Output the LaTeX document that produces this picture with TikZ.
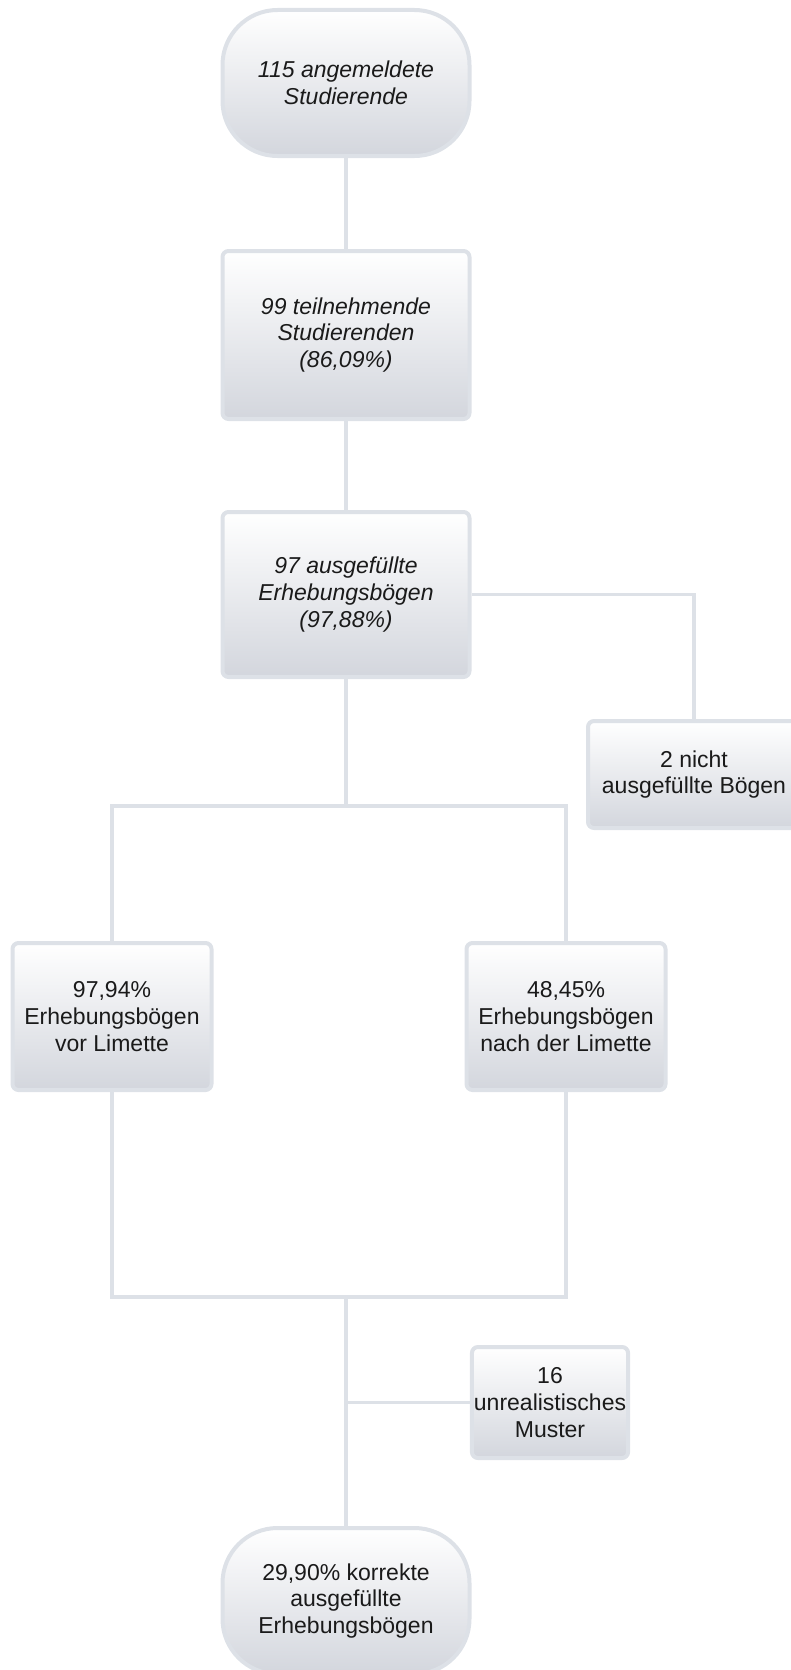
\documentclass[tikz,border=0pt]{standalone}
\usepackage{fontspec}
\setmainfont{Liberation Sans}
\usetikzlibrary{positioning}
\definecolor{edgegray}{HTML}{DDE1E7}
\definecolor{shadebot}{HTML}{D3D6DD}
\definecolor{txtgray}{HTML}{1A1A1A}

\begin{document}
\begin{tikzpicture}[
    x=1pt, y=1pt,
    font=\fontsize{23}{26.7}\selectfont,
    node distance=90pt,
    box/.style={draw=edgegray, line width=4pt, rounded corners=6pt, top color=white,
                bottom color=shadebot, text=txtgray, align=center, inner sep=2pt,
                minimum width=247pt},
    term/.style={box, rounded corners=55pt, minimum height=146pt},
    emph/.style={font=\fontsize{23}{26.7}\selectfont\itshape},
    link/.style={draw=edgegray, line width=3.5pt}
]
\useasboundingbox (0,0) rectangle (790,-1670);

\node[term, emph] (start) at (346,-83) {115 angemeldete\\Studierende};
\node[box, emph, minimum height=168pt, below=91pt of start] (part) {99 teilnehmende\\Studierenden\\(86,09\%)};
\node[box, emph, minimum height=165pt, below=89pt of part] (filled) {97 ausgefüllte\\Erhebungsbögen\\(97,88\%)};

\node[box, minimum width=212pt, minimum height=107pt] (notfilled) at (694,-774.5) {2 nicht\\ausgefüllte Bögen};

\node[box, minimum width=199pt, minimum height=147pt] (before) at (112,-1016.5) {97,94\%\\Erhebungsbögen\\vor Limette};
\node[box, minimum width=199pt, minimum height=147pt] (after) at (566,-1016.5) {48,45\%\\Erhebungsbögen\\nach der Limette};

\node[box, minimum width=156pt, minimum height=111pt] (unreal) at (550,-1402.5) {16\\unrealistisches\\Muster};
\node[term] (result) at (346,-1601) {29,90\% korrekte\\ausgefüllte\\Erhebungsbögen};

\coordinate (split) at (346,-806);
\coordinate (join) at (346,-1297);
\coordinate (tap) at (346,-1402.5);

\begin{scope}[on background layer/.try]
\draw[link] (start) -- (part);
\draw[link] (part) -- (filled);
\draw[link] (filled.east) -| (notfilled.north);
\draw[link] (filled) -- (split);
\draw[link] (split) -| (before.north);
\draw[link] (split) -| (after.north);
\draw[link] (before.south) |- (join);
\draw[link] (after.south) |- (join);
\draw[link] (join) -- (result.north);
\draw[link] (tap) -- (unreal.west);
\end{scope}
\end{tikzpicture}
\end{document}
